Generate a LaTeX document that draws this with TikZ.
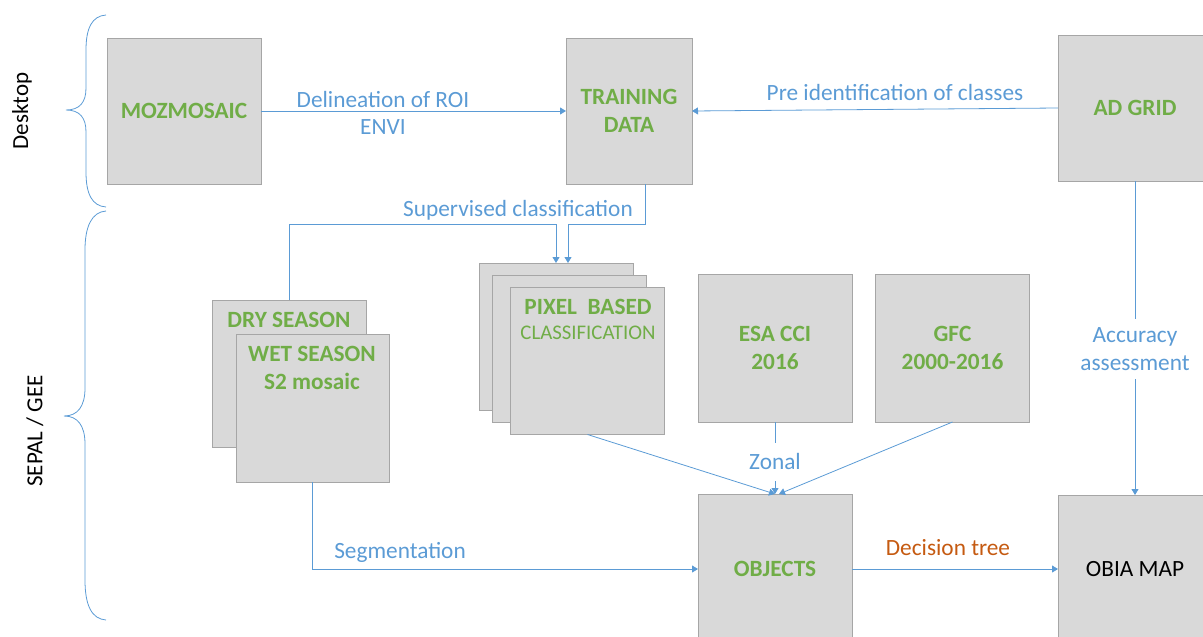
\documentclass[tikz,border=0pt]{standalone}
\usepackage{fontspec}
\setmainfont{Carlito}
\usetikzlibrary{arrows.meta}
\definecolor{boxfill}{HTML}{D9D9D9}
\definecolor{boxline}{HTML}{A6A6A6}
\definecolor{grn}{HTML}{70AD47}
\definecolor{blu}{HTML}{5B9BD5}
\definecolor{org}{HTML}{C55A11}
\tikzset{
  box/.style={draw=boxline, line width=1pt, fill=boxfill, inner sep=0pt, outer sep=0pt,
    minimum width=154pt, minimum height=147pt},
  gtxt/.style={text=grn, font=\fontsize{23.3}{28}\selectfont\bfseries, align=center},
  btxt/.style={text=blu, font=\fontsize{23.3}{27.5}\selectfont, align=center},
  conn/.style={draw=blu, line width=0.8pt},
  arr/.style={conn, -{Triangle[width=7pt,length=6pt]}},
  brace/.style={draw=blu, line width=0.8pt}
}
\begin{document}
\begin{tikzpicture}[x=1pt,y=-1pt]
\useasboundingbox (0,0) rectangle (1203,637);
% side labels
\node[rotate=90, font=\fontsize{23}{27}\selectfont] (desk) at (22,111) {Desktop};
\node[rotate=90, font=\fontsize{23}{27}\selectfont] (sepal) at (35,431) {SEPAL / GEE};
% braces
\draw[brace] (106,15) .. controls (92,16) and (86,28) .. (86,50) -- (86,88)
  .. controls (86,102) and (80,110) .. (66,110)
  .. controls (80,110) and (86,118) .. (86,132) -- (86,172)
  .. controls (86,194) and (92,206) .. (106,207);
\draw[brace] (106,211) .. controls (92,212) and (85,226) .. (85,250) -- (85,388)
  .. controls (85,406) and (78,416) .. (64,416)
  .. controls (78,416) and (85,426) .. (85,444) -- (85,580)
  .. controls (85,606) and (92,619) .. (106,620);
% boxes
\node[box, gtxt, minimum height=146pt] (moz) at (184,111) {MOZMOSAIC};
\node[box, gtxt, minimum width=126pt, minimum height=146pt] (train) at (629,111) {TRAINING\\DATA};
\node[box, gtxt, minimum height=146pt] (adg) at (1135,108) {AD GRID};
\node[box] (dry) at (289,373.5) {};
\node[gtxt] (dryt) at (289,320) {DRY SEASON};
\node[box, minimum width=153pt, minimum height=148pt] (wet) at (312.5,408) {};
\node[gtxt] (wett) at (312,368) {WET SEASON\\S2 mosaic};
\node[box] (p1) at (556,336.5) {};
\node[box] (p2) at (569,348.5) {};
\node[box] (p3) at (587.5,361) {};
\node[gtxt] (pixt) at (588,307) {PIXEL~~BASED};
\node[text=grn, font=\fontsize{20.8}{24}\selectfont] (clst) at (588,333) {CLASSIFICATION};
\node[box, gtxt, minimum height=148pt] (esa) at (775,348) {ESA CCI\\2016};
\node[box, gtxt, minimum height=148pt] (gfc) at (952.5,348) {GFC\\2000-2016};
\node[box, gtxt, minimum height=150pt] (obj) at (775,569) {OBJECTS};
\node[box, minimum height=148pt, font=\fontsize{23.3}{28}\selectfont] (obia) at (1135,569) {OBIA MAP};
% connectors
\draw[arr] (moz.east) -- (train.west);
\node[btxt] (delin) at (383,113) {Delineation of ROI\\ENVI};
\draw[arr] (adg.west) -- (train.east);
\node[btxt] (preid) at (895,92) {Pre identification of classes};
\draw[arr] (dry.north) -- ++(0,-76) -| (p1.north);
\draw[arr] ([xshift=16pt]train.south) -- ++(0,40) -| ([xshift=12pt]p1.north);
\node[btxt] (superv) at (518,210) {Supervised classification};
\draw[arr] (p3.south) -- (obj.north);
\draw[arr] (esa.south) -- node[btxt, fill=white, inner ysep=11pt, inner xsep=1pt, pos=0.555] (zonal) {Zonal} (obj.north);
\draw[arr] (gfc.south) -- ([xshift=4pt]obj.north);
\draw[arr] (adg.south) -- node[btxt, fill=white, inner ysep=9pt, inner xsep=1pt, pos=0.535] (acc) {Accuracy\\assessment} (obia.north);
\draw[arr] (wet.south) |- (obj.west);
\node[btxt] (segm) at (400,552) {Segmentation};
\draw[arr] (obj.east) -- (obia.west);
\node[text=org, font=\fontsize{23.3}{28}\selectfont] (dtree) at (948,548) {Decision tree};
\end{tikzpicture}
\end{document}
